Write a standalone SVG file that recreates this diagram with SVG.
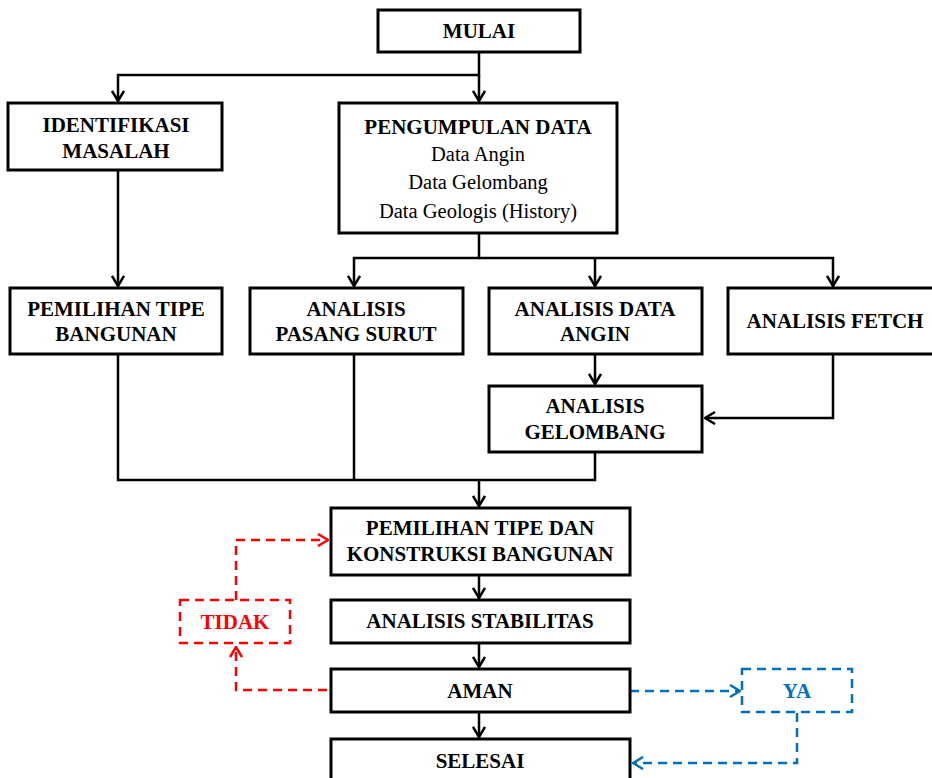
<svg xmlns="http://www.w3.org/2000/svg" width="932" height="778" viewBox="0 0 932 778">
<style>
.box{fill:#fff;stroke:#000;stroke-width:3}
.t{font-family:"Liberation Serif","Times New Roman",serif;font-size:21px;font-weight:bold;text-anchor:middle;fill:#000}
.r{font-weight:normal;font-size:20.5px}
.c{fill:none;stroke:#000;stroke-width:2.5}
.red{fill:none;stroke:#ff0000;stroke-width:2.5;stroke-dasharray:9,6}
.blue{fill:none;stroke:#0070c0;stroke-width:2.5;stroke-dasharray:9,6}
</style>
<defs>
<marker id="a" viewBox="0 0 12 14" refX="11" refY="7" markerWidth="12" markerHeight="14" markerUnits="userSpaceOnUse" orient="auto"><path d="M1,1 L11,7 L1,13" fill="none" stroke="#000" stroke-width="2.5"/></marker>
<marker id="ar" viewBox="0 0 12 14" refX="11" refY="7" markerWidth="12" markerHeight="14" markerUnits="userSpaceOnUse" orient="auto"><path d="M1,1 L11,7 L1,13" fill="none" stroke="#ff0000" stroke-width="2.5"/></marker>
<marker id="ab" viewBox="0 0 12 14" refX="11" refY="7" markerWidth="12" markerHeight="14" markerUnits="userSpaceOnUse" orient="auto"><path d="M1,1 L11,7 L1,13" fill="none" stroke="#0070c0" stroke-width="2.5"/></marker>
</defs>
<rect width="932" height="778" fill="#fff"/>
<g id="connectors">
<path class="c" d="M479,52 V75 H118 V101" marker-end="url(#a)"/>
<path class="c" d="M479,75 V101" marker-end="url(#a)"/>
<path class="c" d="M118,170 V286" marker-end="url(#a)"/>
<path class="c" d="M479,233 V258 H354 V286" marker-end="url(#a)"/>
<path class="c" d="M479,258 H833 V286" marker-end="url(#a)"/>
<path class="c" d="M595,258 V286" marker-end="url(#a)"/>
<path class="c" d="M595,354 V384" marker-end="url(#a)"/>
<path class="c" d="M833,354 V418 H705" marker-end="url(#a)"/>
<path class="c" d="M118,354 V480 H595 V452"/>
<path class="c" d="M354,354 V480"/>
<path class="c" d="M479,480 V506" marker-end="url(#a)"/>
<path class="c" d="M479,575 V598" marker-end="url(#a)"/>
<path class="c" d="M479,643 V667" marker-end="url(#a)"/>
<path class="c" d="M479,712 V737" marker-end="url(#a)"/>
<path class="red" d="M327,690 H236 V647" marker-end="url(#ar)"/>
<path class="red" d="M236,600 V540 H328" marker-end="url(#ar)"/>
<path class="blue" d="M630,691 H740" marker-end="url(#ab)"/>
<path class="blue" d="M797,713 V763 H633" marker-end="url(#ab)"/>
</g>
<g id="mulai"><rect class="box" x="378" y="10" width="202" height="42"/><text class="t" x="479" y="38">MULAI</text></g>
<g id="identifikasi"><rect class="box" x="8" y="103" width="214" height="67"/><text class="t" x="116" y="132">IDENTIFIKASI</text><text class="t" x="116" y="158">MASALAH</text></g>
<g id="pengumpulan"><rect class="box" x="339" y="103" width="278" height="130"/><text class="t" x="478" y="134">PENGUMPULAN DATA</text><text class="t r" x="478" y="161">Data Angin</text><text class="t r" x="478" y="189">Data Gelombang</text><text class="t r" x="478" y="218">Data Geologis (History)</text></g>
<g id="pemilihan-tipe"><rect class="box" x="10" y="288" width="212" height="66"/><text class="t" x="116" y="316">PEMILIHAN TIPE</text><text class="t" x="116" y="341">BANGUNAN</text></g>
<g id="pasang-surut"><rect class="box" x="250" y="288" width="213" height="66"/><text class="t" x="356" y="316">ANALISIS</text><text class="t" x="356" y="341">PASANG SURUT</text></g>
<g id="data-angin"><rect class="box" x="489" y="288" width="213" height="66"/><text class="t" x="595" y="316">ANALISIS DATA</text><text class="t" x="595" y="341">ANGIN</text></g>
<g id="fetch"><rect class="box" x="728" y="288" width="210" height="66"/><text class="t" x="835" y="328">ANALISIS FETCH</text></g>
<g id="gelombang"><rect class="box" x="489" y="386" width="213" height="66"/><text class="t" x="595" y="413">ANALISIS</text><text class="t" x="595" y="439">GELOMBANG</text></g>
<g id="konstruksi"><rect class="box" x="331" y="508" width="299" height="67"/><text class="t" x="480" y="535">PEMILIHAN TIPE DAN</text><text class="t" x="480" y="561">KONSTRUKSI BANGUNAN</text></g>
<g id="stabilitas"><rect class="box" x="331" y="600" width="299" height="43"/><text class="t" x="480" y="628">ANALISIS STABILITAS</text></g>
<g id="aman"><rect class="box" x="331" y="669" width="299" height="43"/><text class="t" x="480" y="698">AMAN</text></g>
<g id="selesai"><rect class="box" x="331" y="739" width="299" height="45"/><text class="t" x="480" y="768">SELESAI</text></g>
<g id="tidak"><rect x="180" y="600" width="110" height="43" fill="none" stroke="#ff0000" stroke-width="2.5" stroke-dasharray="9,6"/><text class="t" x="235" y="629" style="fill:#ff0000">TIDAK</text></g>
<g id="ya"><rect x="742" y="669" width="110" height="43" fill="none" stroke="#0070c0" stroke-width="2.5" stroke-dasharray="9,6"/><text class="t" x="797" y="698" style="fill:#0070c0">YA</text></g>
</svg>
